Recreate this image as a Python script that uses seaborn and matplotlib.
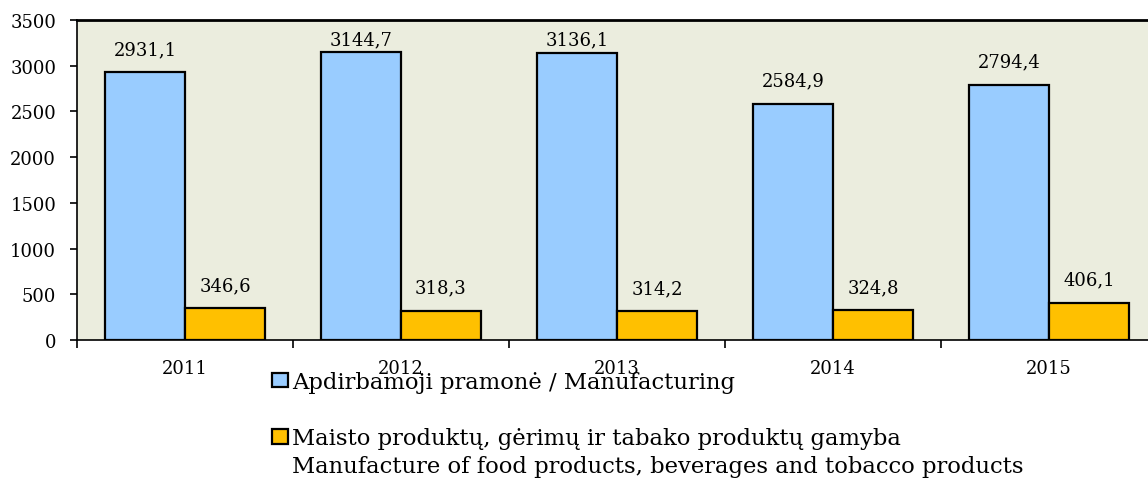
import matplotlib
matplotlib.use("Agg")
import matplotlib.pyplot as plt
from matplotlib.patches import Patch
import pandas as pd
import seaborn as sns

# Data: production value by year
years = ["2011", "2012", "2013", "2014", "2015"]
manufacturing = [2931.1, 3144.7, 3136.1, 2584.9, 2794.4]
food_bev_tobacco = [346.6, 318.3, 314.2, 324.8, 406.1]
series_labels = [
    "Apdirbamoji pramonė / Manufacturing",
    "Maisto produktų, gėrimų ir tabako produktų gamyba",
]
series_label_en2 = "Manufacture of food products, beverages and tobacco products"
colors = ["#99CCFF", "#FFC000"]
y_ticks = [0, 500, 1000, 1500, 2000, 2500, 3000, 3500]

df = pd.DataFrame({
    "year": years * 2,
    "value": manufacturing + food_bev_tobacco,
    "series": [series_labels[0]] * len(years) + [series_labels[1]] * len(years),
})

sns.set_theme(style="white")
plt.rcParams["font.family"] = ["DejaVu Serif"]
plt.rcParams["text.color"] = "black"
plt.rcParams["xtick.color"] = "black"
plt.rcParams["ytick.color"] = "black"

fig = plt.figure(figsize=(11.48, 4.81), dpi=100)
ax = fig.add_axes([77 / 1148, 140 / 481, 1080 / 1148, 320 / 481])
ax.set_facecolor("#EBEDDE")

sns.barplot(data=df, x="year", y="value", hue="series", order=years,
            hue_order=series_labels, palette=colors, width=0.74, gap=0,
            edgecolor="black", linewidth=1.6, saturation=1, ax=ax,
            legend=False)

# value labels above each bar, kept inside the plotting area
label_gap = 252       # gap above the bar top, in data units
label_ceiling = 3290  # highest label position, in data units
for container in ax.containers:
    for bar in container:
        h = bar.get_height()
        ax.text(bar.get_x() + bar.get_width() / 2,
                min(h + label_gap, label_ceiling),
                f"{h:.1f}".replace(".", ","),
                ha="center", va="center", fontsize=13, color="black")

ax.set_ylim(0, 3500)
ax.set_xlim(-0.5, len(years) - 0.5)
ax.set_yticks(y_ticks)
ax.set_yticklabels([str(t) for t in y_ticks], fontsize=13)
ax.tick_params(axis="y", direction="out", length=5, width=1.2, color="black",
               pad=10, left=True)

# ticks at category boundaries, labels at category centers
ax.set_xticks([i - 0.5 for i in range(len(years) + 1)])
ax.set_xticklabels([""] * (len(years) + 1))
ax.tick_params(axis="x", which="major", direction="out", length=6, width=1.2,
               color="black", bottom=True)
ax.set_xticks(range(len(years)), minor=True)
ax.set_xticklabels(years, minor=True, fontsize=13)
ax.tick_params(axis="x", which="minor", length=0, pad=13.5)

ax.set_xlabel("")
ax.set_ylabel("")
for side in ["left", "top", "bottom", "right"]:
    ax.spines[side].set_visible(True)
    ax.spines[side].set_color("black")
ax.spines["left"].set_linewidth(1.2)
ax.spines["bottom"].set_linewidth(1.2)
ax.spines["top"].set_linewidth(2.0)
ax.spines["right"].set_linewidth(2.0)

blank = Patch(facecolor="none", edgecolor="none")
handles = [
    Patch(facecolor=colors[0], edgecolor="black", linewidth=1.6),
    blank,
    Patch(facecolor=colors[1], edgecolor="black", linewidth=1.6),
    blank,
]
labels = [series_labels[0], " ", series_labels[1], series_label_en2]
fig.legend(handles, labels, loc="upper left",
           bbox_to_anchor=(272 / 1148, 1 - 372 / 481), frameon=False,
           fontsize=16.3, borderpad=0, borderaxespad=0, handlelength=0.72,
           handleheight=0.62, handletextpad=0.18, labelspacing=0.27,
           labelcolor="black")

fig.savefig("out.png", dpi=100)
